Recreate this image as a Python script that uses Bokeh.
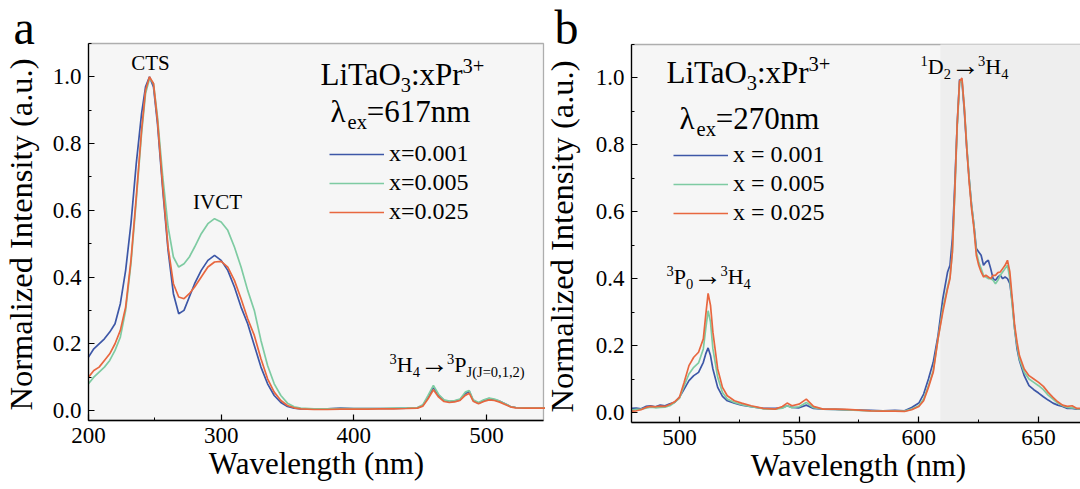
import math
from bokeh.plotting import figure
from bokeh.layouts import row
from bokeh.models import (Range1d, Label, Legend, LegendItem, SingleIntervalTicker,
                          PrintfTickFormatter, BoxAnnotation)
from bokeh.embed import file_html
from bokeh.resources import INLINE

# ---------------- data: panel a (excitation, lambda_em = 617 nm) ----------------
wl_a = [200, 204, 208, 212, 216, 220, 224, 228, 232, 236, 240,
        243, 246, 249, 252,
        256, 260, 264, 268, 272, 276, 280,
        285, 290, 295, 300, 305, 310, 315, 320, 325, 330, 335, 340, 345, 350, 355, 360,
        370, 380, 390, 400, 410, 420, 430, 440,
        448, 452, 456, 460, 464, 468, 472, 476, 480, 484,
        487,
        490, 494, 498, 502, 506, 510, 514, 518, 522,
        530, 545]
a_x001 = [0.16, 0.185, 0.20, 0.215, 0.235, 0.26, 0.32, 0.42, 0.56, 0.74, 0.89,
          0.97, 1.0, 0.97, 0.86,
          0.66, 0.48, 0.35, 0.29, 0.30, 0.34, 0.38,
          0.42, 0.45, 0.465, 0.45, 0.42, 0.37, 0.31, 0.26, 0.195, 0.13, 0.08, 0.045, 0.024, 0.012, 0.007, 0.005,
          0.005, 0.005, 0.007, 0.006, 0.006, 0.006, 0.006, 0.007,
          0.008, 0.015, 0.04, 0.07, 0.045, 0.03, 0.027, 0.028, 0.032, 0.05,
          0.058,
          0.03, 0.022, 0.03, 0.036, 0.032, 0.028, 0.02, 0.012, 0.009,
          0.008, 0.008]
a_x005 = [0.08, 0.10, 0.115, 0.13, 0.15, 0.18, 0.22, 0.30, 0.44, 0.63, 0.83,
          0.95, 0.995, 0.98, 0.88,
          0.70, 0.55, 0.46, 0.43, 0.44, 0.46, 0.49,
          0.53, 0.56, 0.575, 0.565, 0.54, 0.49, 0.43, 0.36, 0.30, 0.21, 0.135, 0.08, 0.045, 0.022, 0.011, 0.007,
          0.005, 0.005, 0.006, 0.006, 0.006, 0.006, 0.007, 0.008,
          0.009, 0.017, 0.045, 0.075, 0.048, 0.032, 0.028, 0.03, 0.034, 0.055,
          0.06,
          0.032, 0.024, 0.032, 0.037, 0.034, 0.028, 0.02, 0.012, 0.009,
          0.008, 0.008]
a_x025 = [0.10, 0.12, 0.13, 0.15, 0.17, 0.20, 0.24, 0.31, 0.45, 0.64, 0.84,
          0.96, 1.0, 0.98, 0.87,
          0.67, 0.49, 0.38, 0.34, 0.335, 0.35, 0.37,
          0.40, 0.43, 0.445, 0.447, 0.43, 0.39, 0.335, 0.275, 0.225, 0.155, 0.095, 0.055, 0.03, 0.015, 0.008, 0.005,
          0.003, 0.003, 0.004, 0.004, 0.004, 0.005, 0.005, 0.006,
          0.007, 0.013, 0.035, 0.062, 0.04, 0.027, 0.024, 0.026, 0.03, 0.045,
          0.052,
          0.028, 0.02, 0.027, 0.032, 0.03, 0.025, 0.018, 0.011, 0.008,
          0.007, 0.007]

# ---------------- data: panel b (emission, lambda_ex = 270 nm) ----------------
wl_b = [480, 482, 484, 486, 488, 490, 492, 494, 496, 498, 500, 502, 504, 506, 508, 510,
        511, 512, 513, 514,
        516, 518, 520,
        523, 526, 530, 535, 540, 543, 545, 547, 550, 553, 556,
        560, 565, 570, 575, 580, 585, 590,
        594, 597, 600, 602, 604, 606, 608, 610, 612,
        613, 614, 615, 616, 617, 618, 619, 620, 621, 622, 623, 624, 625, 626, 627,
        628, 629, 630, 631, 632, 633, 634, 635, 636, 637, 638, 639, 640, 641, 642,
        644, 646, 648, 650, 652, 654, 656, 658, 660, 662, 664, 666, 668]
b_x001 = [0.012, 0.013, 0.011, 0.018, 0.02, 0.017, 0.022, 0.02, 0.026, 0.03, 0.045, 0.07, 0.095, 0.11, 0.12, 0.15,
          0.175, 0.193, 0.17, 0.13,
          0.075, 0.048, 0.035,
          0.028, 0.022, 0.017, 0.012, 0.012, 0.014, 0.02, 0.015, 0.014, 0.022, 0.012,
          0.01, 0.009, 0.008, 0.007, 0.006, 0.005, 0.006,
          0.005, 0.015, 0.028, 0.055, 0.10, 0.15, 0.23, 0.34, 0.42,
          0.44, 0.52, 0.68, 0.86, 0.995, 0.99, 0.90, 0.79, 0.70, 0.62, 0.56, 0.49, 0.48, 0.47, 0.44,
          0.45, 0.455, 0.43, 0.40, 0.395, 0.405, 0.41, 0.40, 0.405, 0.40, 0.385, 0.33, 0.25, 0.19, 0.155,
          0.11, 0.08, 0.068, 0.058, 0.047, 0.037, 0.028, 0.022, 0.018, 0.012, 0.012, 0.01, 0.01]
b_x005 = [0.007, 0.009, 0.01, 0.013, 0.016, 0.014, 0.015, 0.016, 0.02, 0.03, 0.042, 0.08, 0.115, 0.135, 0.148, 0.19,
          0.25, 0.304, 0.27, 0.19,
          0.105, 0.06, 0.04,
          0.03, 0.023, 0.017, 0.011, 0.01, 0.013, 0.02, 0.014, 0.017, 0.03, 0.014,
          0.01, 0.009, 0.008, 0.006, 0.005, 0.005, 0.005,
          0.004, 0.01, 0.02, 0.04, 0.08, 0.125, 0.22, 0.31, 0.375,
          0.405, 0.48, 0.65, 0.85, 0.985, 0.995, 0.91, 0.80, 0.70, 0.62, 0.56, 0.48, 0.45, 0.43, 0.41,
          0.405, 0.40, 0.40, 0.395, 0.385, 0.395, 0.41, 0.42, 0.43, 0.44, 0.40, 0.32, 0.25, 0.20, 0.16,
          0.12, 0.10, 0.09, 0.08, 0.068, 0.052, 0.04, 0.028, 0.02, 0.015, 0.014, 0.011, 0.01]
b_x025 = [0.004, 0.005, 0.008, 0.015, 0.018, 0.017, 0.019, 0.018, 0.024, 0.032, 0.045, 0.09, 0.14, 0.165, 0.18, 0.22,
          0.29, 0.356, 0.32, 0.24,
          0.13, 0.075, 0.05,
          0.035, 0.028, 0.02, 0.012, 0.01, 0.018, 0.028, 0.02, 0.025, 0.04, 0.018,
          0.01, 0.01, 0.009, 0.007, 0.005, 0.004, 0.004,
          0.003, 0.008, 0.018, 0.035, 0.075, 0.12, 0.22, 0.30, 0.37,
          0.40, 0.48, 0.66, 0.86, 0.99, 1.0, 0.91, 0.79, 0.69, 0.61, 0.55, 0.47, 0.44, 0.42, 0.405,
          0.41, 0.405, 0.40, 0.41, 0.41, 0.418, 0.42, 0.43, 0.44, 0.455, 0.42, 0.34, 0.26, 0.21, 0.17,
          0.13, 0.11, 0.10, 0.09, 0.078, 0.06, 0.045, 0.032, 0.022, 0.018, 0.02, 0.012, 0.012]

labels_a = ["x=0.001", "x=0.005", "x=0.025"]
labels_b = ["x = 0.001", "x = 0.005", "x = 0.025"]
colors = ["#3d57a7", "#7ecba2", "#e8673f"]

for s in (a_x001, a_x005, a_x025):
    assert len(s) == len(wl_a)
for s in (b_x001, b_x005, b_x025):
    assert len(s) == len(wl_b)

H = 489
FONT = "Liberation Serif"
MID = 0.37  # centre of the text box above the alphabetic baseline, in em
W = {'L': .611, 'i': .278, 'T': .611, 'a': .444, 'O': .722, ':': .278, 'x': .5, 'P': .556,
     'r': .333, '3': .5, '+': .564, 'λ': .55, 'e': .444, '=': .564, '0': .5, '1': .5, '2': .5,
     '4': .5, '5': .5, '6': .5, '7': .5, 'n': .5, 'm': .778, ' ': .25, '.': .25, 'C': .667,
     'S': .556, 'I': .333, 'V': .722, 'H': .722, '→': .95, 'J': .389, '(': .333, ')': .333,
     ',': .25, 'D': .722, 'b': .5}
KERN = {"Ta": -0.08}
SCALE = {"n": 1.0, "sub": 0.66, "sup": 0.66, "arrow": 1.3}
SHIFT = {"n": 0.0, "sub": -0.22, "sup": 0.38, "arrow": -0.075}


def text_w(t, s):
    w = sum(W.get(c, .5) for c in t)
    w += sum(KERN.get(t[i:i + 2], 0) for i in range(len(t) - 1))
    return w * s


def rich(p, X, Y, parts, size, align="left"):
    """Text made of normal / sub / sup pieces; X, Y = canvas px of the baseline start."""
    sizes = [size * SCALE[k] for _, k in parts]
    widths = [text_w(t, s) for (t, _), s in zip(parts, sizes)]
    x = X - sum(widths) / 2 if align == "center" else X
    for (t, k), s, w in zip(parts, sizes, widths):
        dy = SHIFT[k] * size
        p.add_layout(Label(x=x, y=H - Y + dy + MID * s, x_units="screen", y_units="screen",
                           text=t, text_font=FONT, text_font_size=f"{s:.1f}px",
                           text_baseline="middle", text_align="left", text_color="black"))
        x += w


def make_panel(width, box_px, xr, xstep, box_right_data):
    """box_px = (left, top, right, bottom) of the plot box in canvas px."""
    L, T, R, B = box_px
    x0, x1 = xr
    y0, y1 = -0.03, 1.1
    sx = (R - L) / (x1 - x0)
    sy = (B - T) / (y1 - y0)
    p = figure(width=width, height=H,
               x_range=Range1d(x0 - L / sx, x1 + (width - R) / sx),
               y_range=Range1d(y0 - (H - B) / sy, y1 + T / sy),
               output_backend="svg", toolbar_location=None,
               min_border=0, min_border_left=0, min_border_right=0,
               min_border_top=0, min_border_bottom=0,
               background_fill_color="white", border_fill_color="white")
    p.title.visible = False
    p.outline_line_color = None
    p.xgrid.visible = False
    p.ygrid.visible = False
    p.add_layout(BoxAnnotation(left=x0, right=box_right_data, bottom=y0, top=y1,
                               fill_color="#f6f6f6", fill_alpha=1.0, line_color="black",
                               line_width=1.3, level="underlay"))
    p.xaxis.fixed_location = y0
    p.yaxis.fixed_location = x0
    p.xaxis.bounds = (x0, box_right_data)
    p.yaxis.bounds = (y0, y1)
    p.xaxis.ticker = SingleIntervalTicker(interval=xstep, num_minor_ticks=2)
    p.yaxis.ticker = SingleIntervalTicker(interval=0.2, num_minor_ticks=2)
    p.yaxis.formatter = PrintfTickFormatter(format="%.1f")
    p.xaxis.formatter = PrintfTickFormatter(format="%d")
    for ax in (p.xaxis[0], p.yaxis[0]):
        ax.axis_line_color = "black"
        ax.axis_line_width = 1.3
        ax.major_tick_in = 6
        ax.major_tick_out = 0
        ax.minor_tick_in = 3
        ax.minor_tick_out = 0
        ax.major_tick_line_color = "black"
        ax.minor_tick_line_color = "black"
        ax.major_tick_line_width = 1.2
        ax.minor_tick_line_width = 1.0
        ax.major_label_text_font = FONT
        ax.major_label_text_font_size = "23px"
        ax.major_label_text_color = "black"
    p.xaxis.major_label_standoff = 7
    p.yaxis.major_label_standoff = 7
    return p


def axis_titles(p, xcenter, xbase, ylabel_base_x, ycenter, xsize=31, ysize=32.5):
    p.add_layout(Label(x=xcenter, y=H - xbase + MID * xsize, x_units="screen", y_units="screen",
                       text="Wavelength (nm)", text_font=FONT, text_font_size=f"{xsize}px",
                       text_align="center", text_baseline="middle", text_color="black"))
    p.add_layout(Label(x=ylabel_base_x - MID * ysize, y=H - ycenter, x_units="screen",
                       y_units="screen", angle=math.pi / 2, text="Normalized Intensity (a.u.)",
                       text_font=FONT, text_font_size=f"{ysize}px", text_align="center",
                       text_baseline="middle", text_color="black"))


def add_legend(p, renderers, labels, X, Ytop):
    items = [LegendItem(label=l, renderers=[r]) for l, r in zip(labels, renderers)]
    lg = Legend(items=items, location=(X, H - Ytop - 86), glyph_width=55, glyph_height=26,
                label_height=26, label_standoff=5, spacing=2, padding=0, margin=0,
                background_fill_alpha=0, border_line_alpha=0,
                label_text_font=FONT, label_text_font_size="24px", label_text_color="black")
    p.add_layout(lg)


# ---------------- panel a ----------------
pa = make_panel(545, (88, 43, 543, 420), (200, 543), 100, 543)
ra = [pa.line(wl_a, s, line_color=c, line_width=1.7)
      for s, c in zip((a_x001, a_x005, a_x025), colors)]
add_legend(pa, ra, labels_a, 329, 139)
axis_titles(pa, 316, 474, 33, 234)

rich(pa, 13, 45, [("a", "n")], 48)
rich(pa, 150, 70, [("CTS", "n")], 21, align="center")
rich(pa, 217, 209, [("IVCT", "n")], 21, align="center")
rich(pa, 320, 85, [("LiTaO", "n"), ("3", "sub"), (":xPr", "n"), ("3+", "sup")], 31)
rich(pa, 330, 122, [("λ", "n"), ("ex", "sub"), ("=617nm", "n")], 31)
rich(pa, 389, 372, [("3", "sup"), ("H", "n"), ("4", "sub"), ("→", "arrow"), ("3", "sup"),
                    ("P", "n"), ("J(J=0,1,2)", "sub")], 22)

# ---------------- panel b (canvas x offset 545) ----------------
pb = make_panel(535, (86, 44, 535 + 60, 422), (480, 667.5 + 25), 50, 720)
pb.x_range.end = 667.5
pb.add_layout(BoxAnnotation(left=609, right=720, bottom=-0.03, top=1.1, fill_color="#eeeeee",
                            fill_alpha=1.0, line_alpha=0, level="underlay"))
rb = [pb.line(wl_b, s, line_color=c, line_width=1.7)
      for s, c in zip((b_x001, b_x005, b_x025), colors)]
add_legend(pb, rb, labels_b, 128, 140)
axis_titles(pb, 313, 476, 29, 236)

rich(pb, 9, 45, [("b", "n")], 48)
rich(pb, 121, 83, [("LiTaO", "n"), ("3", "sub"), (":xPr", "n"), ("3+", "sup")], 31)
rich(pb, 134, 129, [("λ", "n"), ("ex", "sub"), ("=270nm", "n")], 31)
rich(pb, 375, 74, [("1", "sup"), ("D", "n"), ("2", "sub"), ("→", "arrow"), ("3", "sup"),
                   ("H", "n"), ("4", "sub")], 22)
rich(pb, 121, 284, [("3", "sup"), ("P", "n"), ("0", "sub"), ("→", "arrow"), ("3", "sup"),
                    ("H", "n"), ("4", "sub")], 22)

layout = row(pa, pb)
open("out.html", "w").write(file_html(layout, INLINE))
